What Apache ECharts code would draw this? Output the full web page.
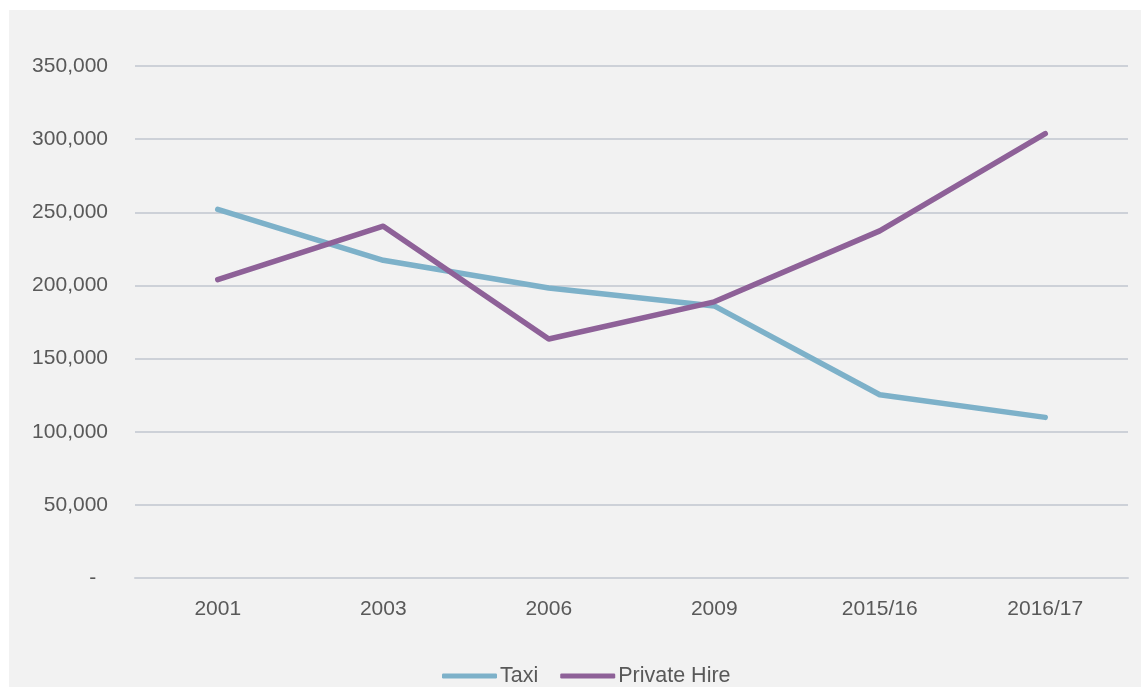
<!DOCTYPE html>
<html>
<head>
<meta charset="utf-8">
<script src="https://cdn.jsdelivr.net/npm/echarts@6/dist/echarts.min.js"></script>
<style>
  html, body { margin: 0; padding: 0; background: #ffffff; }
  #chart { position: absolute; left: 9px; top: 10px; width: 1132px; height: 677px; }
</style>
</head>
<body>
<div id="chart"></div>
<script>
// Licensed vehicles by year
const years = ['2001', '2003', '2006', '2009', '2015/16', '2016/17'];
const taxi = [252000, 217200, 198200, 186000, 125300, 109800];
const privateHire = [204000, 240500, 163400, 188800, 237300, 303800];

const FONT = '"Liberation Sans", Arial, sans-serif';
const labelColor = '#595959';
const gridColor = '#cdd1d8';

const chart = echarts.init(document.getElementById('chart'));
chart.setOption({
  backgroundColor: '#f2f2f2',
  animation: false,
  textStyle: { fontFamily: FONT },
  grid: { left: 126, right: 13, top: 56, bottom: 109 },
  legend: {
    bottom: 0,
    left: 433,
    padding: 0,
    itemWidth: 55,
    itemHeight: 5,
    itemGap: 22,
    icon: 'roundRect',
    textStyle: { color: labelColor, fontSize: 21.5, fontFamily: FONT, padding: [0, 0, 0, -2] },
    data: ['Taxi', 'Private Hire']
  },
  xAxis: {
    type: 'category',
    data: years,
    boundaryGap: true,
    axisLine: { show: true, lineStyle: { color: gridColor, width: 2 } },
    axisTick: { show: false },
    axisLabel: { color: labelColor, fontSize: 21, fontFamily: FONT, margin: 21 }
  },
  yAxis: {
    type: 'value',
    min: 0,
    max: 350000,
    interval: 50000,
    axisLine: { show: false },
    axisTick: { show: false },
    splitLine: { lineStyle: { color: gridColor, width: 2 } },
    axisLabel: {
      color: labelColor,
      fontSize: 21,
      fontFamily: FONT,
      margin: 27,
      formatter: v => v === 0 ? '-  ' : v.toLocaleString('en-US')
    }
  },
  series: [
    {
      name: 'Taxi',
      type: 'line',
      data: taxi,
      symbol: 'none',
      color: '#7db1c9',
      lineStyle: { width: 5.5, cap: 'round', join: 'round' }
    },
    {
      name: 'Private Hire',
      type: 'line',
      data: privateHire,
      symbol: 'none',
      color: '#8e6198',
      lineStyle: { width: 5.5, cap: 'round', join: 'round' }
    }
  ]
});
</script>
</body>
</html>
